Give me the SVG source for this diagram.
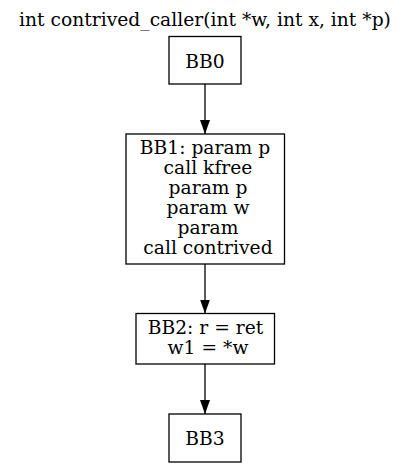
<svg xmlns="http://www.w3.org/2000/svg" width="411" height="468" viewBox="0 0 411 468">
<style>
text { font-family: "DejaVu Serif", serif; font-size: 18.7px; fill: #000; text-anchor: middle; }
.box { fill: #fff; stroke: #000; stroke-width: 1.3; }
.edge { stroke: #000; stroke-width: 1.3; fill: none; }
</style>
<defs>
<marker id="arr" markerUnits="userSpaceOnUse" markerWidth="14" markerHeight="12" refX="14" refY="5" orient="auto">
<polygon points="0,0 14,5 0,10" fill="#000"/>
</marker>
</defs>
<rect width="411" height="468" fill="#fff"/>
<text id="title" x="205" y="26">int contrived_caller(int *w, int x, int *p)</text>
<g id="connectors">
<line class="edge" x1="205" y1="84" x2="205" y2="134" marker-end="url(#arr)"/>
<line class="edge" x1="205" y1="264" x2="205" y2="313.5" marker-end="url(#arr)"/>
<line class="edge" x1="205" y1="364" x2="205" y2="414" marker-end="url(#arr)"/>
</g>
<g id="BB0">
<rect class="box" x="169" y="36.5" width="72" height="47.5"/>
<text x="205" y="67.5">BB0</text>
</g>
<g id="BB1">
<rect class="box" x="126" y="134" width="158.5" height="130"/>
<text x="205" y="153.7">BB1: param p</text>
<text x="208" y="173.7">call kfree</text>
<text x="208" y="193.7">param p</text>
<text x="208" y="213.7">param w</text>
<text x="208" y="233.7">param</text>
<text x="208" y="253.7">call contrived</text>
</g>
<g id="BB2">
<rect class="box" x="136" y="313.5" width="138.5" height="50.5"/>
<text x="205.5" y="334">BB2: r = ret</text>
<text x="208" y="353.5">w1 = *w</text>
</g>
<g id="BB3">
<rect class="box" x="169" y="414" width="72" height="48"/>
<text x="205" y="444.5">BB3</text>
</g>
</svg>
